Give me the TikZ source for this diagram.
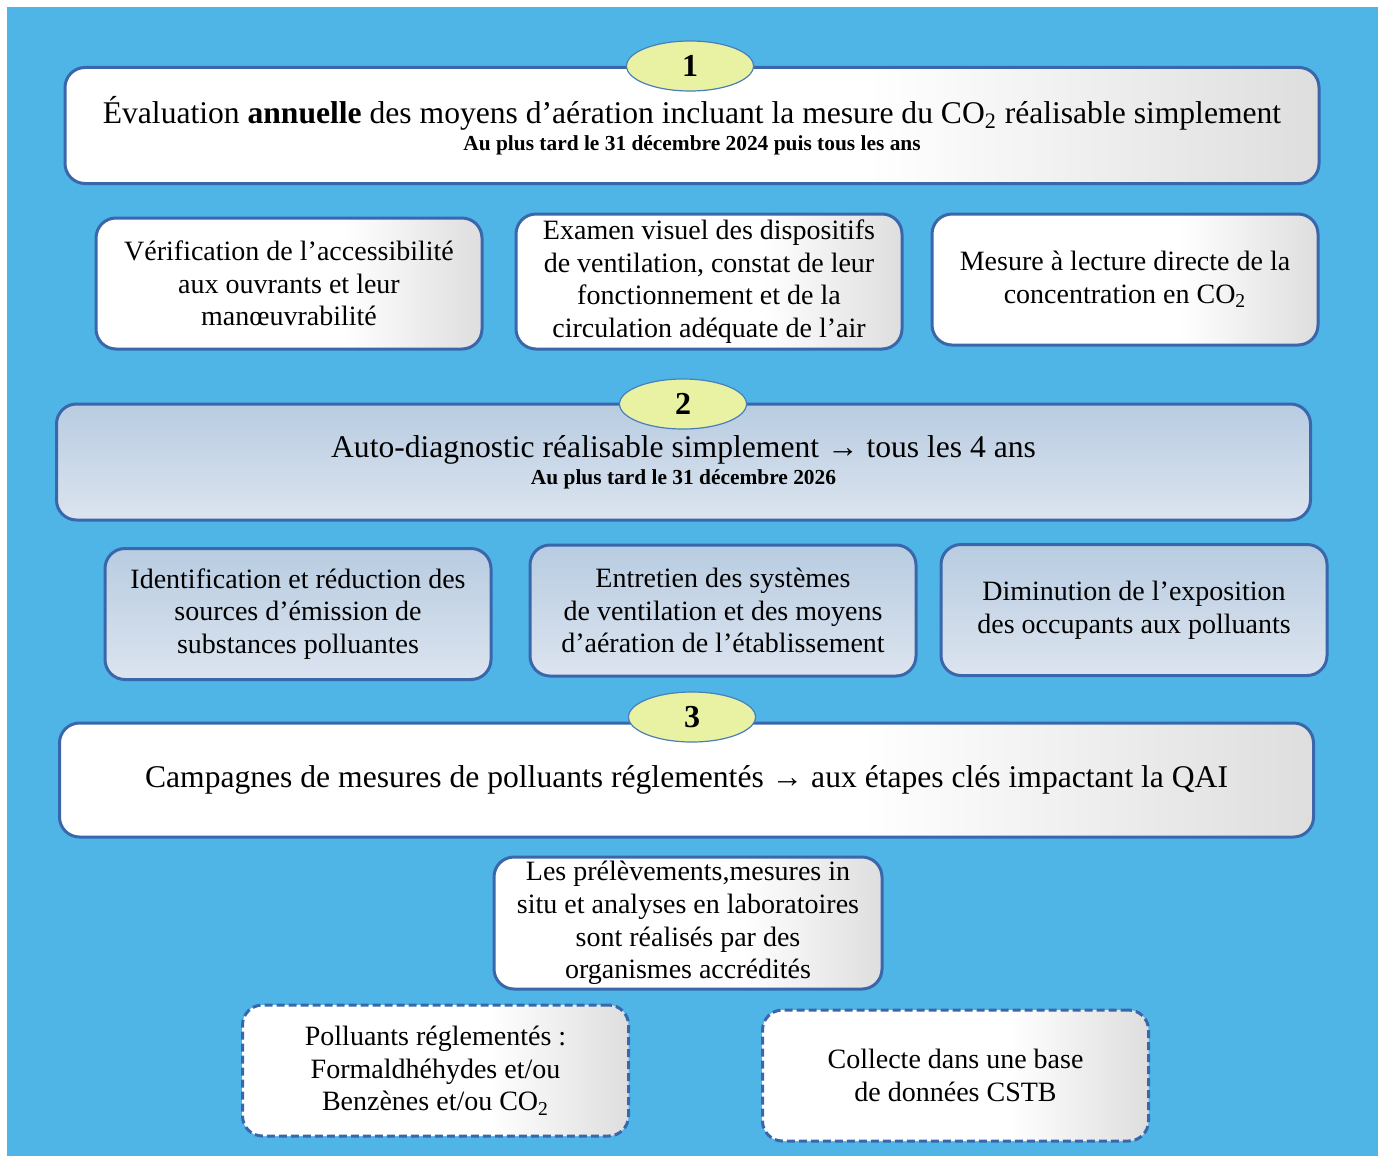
\documentclass[tikz,border=0pt]{standalone}
\usepackage{fontspec}
\setmainfont{Liberation Serif}
\usepackage{tikz}
\usetikzlibrary{shapes.geometric}

\definecolor{bgblue}{HTML}{4EB5E6}
\definecolor{boxline}{HTML}{3A67AB}
\definecolor{ovalfill}{HTML}{E9F2A2}
\definecolor{ovalline}{HTML}{4A7EBB}
\definecolor{topblue}{HTML}{B8CCE1}
\definecolor{botblue}{HTML}{DCE4EF}
\pgfdeclarehorizontalshading{whitegray}{100bp}{color(0bp)=(white); color(25bp)=(white); color(57bp)=(white); color(75bp)=(black!13); color(100bp)=(black!13)}

\begin{document}
\begin{tikzpicture}[x=0.5pt,y=-0.5pt,
		box/.style={draw=boxline, line width=1.5pt, rounded corners=10pt, inner sep=0pt, align=center, font=\fontsize{14}{16.3}\selectfont},
		white box/.style={box, shade, shading=whitegray},
		blue box/.style={box, top color=topblue, bottom color=botblue},
		dashed box/.style={white box, dash pattern=on 4pt off 2pt},
		sbox/.style={minimum width=193pt, minimum height=65.5pt},
		wide/.style={minimum width=627pt, minimum height=58pt, font=\fontsize{15.8}{18}\selectfont},
		oval/.style={ellipse, draw=ovalline, line width=0.6pt, fill=ovalfill, minimum width=63.5pt, minimum height=25pt, inner sep=0pt, font=\fontsize{16}{18}\selectfont\bfseries}]

	\fill[white] (0,0) rectangle (1384,1156);
	\fill[bgblue] (7,7) rectangle (1378,1156);
	\useasboundingbox (0,0) rectangle (1384,1156);

	\node[white box, wide] (step1) at (692,125.5)
		{\'Evaluation \textbf{annuelle} des moyens d’aération incluant la mesure du CO\textsubscript{2} réalisable simplement\\[-4.5pt]
		 \fontsize{10.7}{12}\selectfont\bfseries Au plus tard le 31 décembre 2024 puis tous les ans};
	\node[oval] (num1) at (690,66) {1};

	\node[white box, sbox] (acces)  at (289,283.5)  {Vérification de l’accessibilité\\aux ouvrants et leur\\manœuvrabilité};
	\node[white box, sbox, minimum height=67.5pt] (examen) at (709,281.5) {Examen visuel des dispositifs\\de ventilation, constat de leur\\fonctionnement et de la\\circulation adéquate de l’air};
	\node[white box, sbox] (mesure) at (1125,279.5) {Mesure à lecture directe de la\\concentration en CO\textsubscript{2}};

	\node[blue box, wide] (step2) at (683.5,462)
		{Auto-diagnostic réalisable simplement → tous les 4 ans\\[-4.5pt]
		 \fontsize{10.7}{12}\selectfont\bfseries Au plus tard le 31 décembre 2026};
	\node[oval] (num2) at (683,404) {2};

	\node[blue box, sbox] (sources)   at (298,614)    {Identification et réduction des\\sources d’émission de\\substances polluantes};
	\node[blue box, sbox] (entretien) at (723,610.5)  {Entretien des systèmes\\de ventilation et des moyens\\d’aération de l’établissement};
	\node[blue box, sbox] (expo)      at (1134,610)   {Diminution de l’exposition\\des occupants aux polluants};

	\node[white box, wide, minimum height=57pt] (step3) at (686.5,780)
		{Campagnes de mesures de polluants réglementés → aux étapes clés impactant la QAI};
	\node[oval] (num3) at (692,717) {3};

	\node[white box, sbox, minimum width=194pt, minimum height=66pt] (labo) at (688,923) {Les prélèvements,mesures in\\situ et analyses en laboratoires\\sont réalisés par des\\organismes accrédités};
	\node[dashed box, sbox] (polluants) at (435.5,1070.5) {Polluants réglementés :\\Formaldhéhydes et/ou\\Benzènes et/ou CO\textsubscript{2}};
	\node[dashed box, sbox] (cstb)      at (955.5,1075.5) {Collecte dans une base\\de données CSTB};

\end{tikzpicture}
\end{document}
